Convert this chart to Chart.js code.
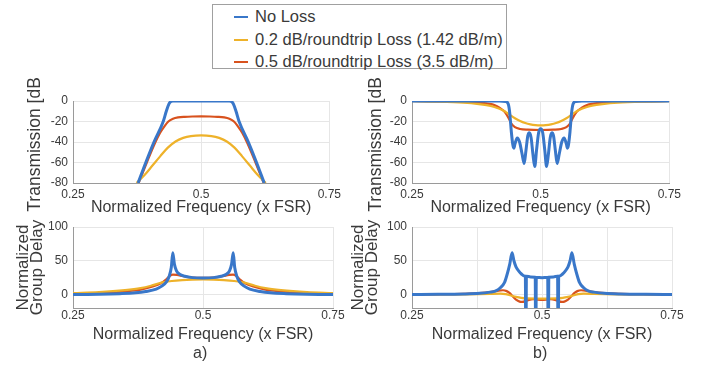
<!DOCTYPE html>
<html>
<head>
<meta charset="utf-8">
<script src="https://cdn.jsdelivr.net/npm/chart.js@4"></script>
<style>
  body { margin: 0; background: #fff; width: 701px; height: 369px; position: relative; overflow: hidden;
         font-family: 'Liberation Sans', Arial, sans-serif; color: #3a3a3a; }
  canvas { position: absolute; }
  #legend { position: absolute; left: 212px; top: 4px; width: 293px; height: 63px; border: 1px solid #a0a0a0; background: #fff; }
  .item { position: absolute; left: 0; height: 20px; font-size: 16.5px; line-height: 20px; white-space: nowrap; }
  .item span.swatch { position: absolute; left: 21px; top: 10px; width: 14px; height: 2px; }
  .item span.txt { position: absolute; left: 42px; top: 0; }
  .sub { position: absolute; font-size: 16px; }
</style>
</head>
<body>
<div id="legend">
  <div class="item" style="top:1px"><span class="swatch" style="background:#3977c9"></span><span class="txt">No Loss</span></div>
  <div class="item" style="top:24px"><span class="swatch" style="background:#eeb22a"></span><span class="txt">0.2 dB/roundtrip Loss (1.42 dB/m)</span></div>
  <div class="item" style="top:46px"><span class="swatch" style="background:#d8521e"></span><span class="txt">0.5 dB/roundtrip Loss (3.5 dB/m)</span></div>
</div>
<canvas id="transA" width="344" height="140" style="left:1px;top:78px"></canvas>
<canvas id="transB" width="345" height="140" style="left:340px;top:78px"></canvas>
<canvas id="delayA" width="344" height="140" style="left:1px;top:205px"></canvas>
<canvas id="delayB" width="345" height="140" style="left:340px;top:205px"></canvas>
<div class="sub" style="left:193px;top:344px">a)</div>
<div class="sub" style="left:533px;top:344px">b)</div>
<script>
// series colours (legend order)
const BLUE = "#3977c9", YELLOW = "#eeb22a", RED = "#d8521e";

// axis ticks
const xTickVals = [0.25, 0.5, 0.75];
const xTickValsFine = [0.25, 0.375, 0.5, 0.625, 0.75];
const transTicks = [-80, -60, -40, -20, 0];
const delayTicks = [0, 50, 100];

// a) transmission [dB]
const xA_T_blue = [0.377, 0.392, 0.408, 0.426, 0.432, 0.437, 0.441, 0.445, 0.555, 0.559, 0.563, 0.568, 0.574, 0.592, 0.608, 0.623];
const yA_T_blue = [-80, -60, -40, -20, -10, -3, -0.5, 0, 0, -0.5, -3, -10, -20, -40, -60, -80];
const xA_T_red = [0.378, 0.394, 0.410, 0.420, 0.428, 0.436, 0.445, 0.455, 0.468, 0.484, 0.5, 0.516, 0.532, 0.545, 0.555, 0.564, 0.572, 0.580, 0.590, 0.606, 0.622];
const yA_T_red = [-80, -60, -41, -31, -25, -20, -17.3, -16, -15.4, -15.1, -15, -15.1, -15.4, -16, -17.3, -20, -25, -31, -41, -60, -80];
const xA_T_yel = [0.374, 0.390, 0.405, 0.420, 0.435, 0.450, 0.465, 0.48, 0.5, 0.52, 0.535, 0.550, 0.565, 0.580, 0.595, 0.610, 0.626];
const yA_T_yel = [-80, -72, -63, -54, -45.5, -39.5, -36, -34.2, -33.5, -34.2, -36, -39.5, -45.5, -54, -63, -72, -80];

// b) transmission [dB]
const xB_T_blue = [0.25, 0.42, 0.432, 0.437, 0.440, 0.443, 0.446, 0.448, 0.450, 0.4545, 0.459, 0.464, 0.468, 0.4715, 0.475, 0.478, 0.4815, 0.485, 0.4885, 0.492, 0.496, 0.5,
  0.504, 0.508, 0.5115, 0.515, 0.5185, 0.522, 0.525, 0.5285, 0.532, 0.536, 0.541, 0.5455, 0.550, 0.552, 0.554, 0.557, 0.560, 0.563, 0.568, 0.58, 0.75];
const yB_T_blue = [0, 0, -0.5, -3, -12, -30, -43, -46, -42, -36, -40, -52, -61, -48, -34, -31, -36, -52, -64, -48, -31, -27,
  -31, -48, -64, -52, -36, -31, -34, -48, -61, -52, -40, -36, -42, -46, -43, -30, -12, -3, -0.5, 0, 0];
const xB_T_red = [0.25, 0.30, 0.35, 0.38, 0.40, 0.41, 0.42, 0.43, 0.437, 0.443, 0.45, 0.46, 0.475, 0.5, 0.525, 0.54, 0.55, 0.557, 0.563, 0.57, 0.58, 0.59, 0.60, 0.62, 0.65, 0.70, 0.75];
const yB_T_red = [0, -0.3, -0.8, -1.5, -2.8, -4, -6.5, -10.5, -16, -22, -25.5, -27.3, -28, -28.3, -28, -27.3, -25.5, -22, -16, -10.5, -6.5, -4, -2.8, -1.5, -0.8, -0.3, 0];
const xB_T_yel = [0.25, 0.30, 0.35, 0.38, 0.40, 0.41, 0.42, 0.43, 0.44, 0.45, 0.46, 0.47, 0.48, 0.49, 0.5, 0.51, 0.52, 0.53, 0.54, 0.55, 0.56, 0.57, 0.58, 0.59, 0.60, 0.62, 0.65, 0.70, 0.75];
const yB_T_yel = [-0.2, -0.6, -1.6, -3, -4.5, -5.8, -7.5, -10, -13.5, -16.8, -19.5, -21.5, -22.8, -23.5, -23.7, -23.5, -22.8, -21.5, -19.5, -16.8, -13.5, -10, -7.5, -5.8, -4.5, -3, -1.6, -0.6, -0.2];

// a) normalized group delay
const xA_D_blue = [0.25, 0.30, 0.34, 0.37, 0.39, 0.41, 0.42, 0.43, 0.435, 0.439, 0.442, 0.445, 0.449, 0.455, 0.465, 0.48, 0.5,
  0.52, 0.535, 0.545, 0.551, 0.555, 0.558, 0.561, 0.565, 0.57, 0.58, 0.59, 0.61, 0.63, 0.66, 0.70, 0.75];
const yA_D_blue = [0, 0.3, 1.2, 2.5, 4.5, 8, 12, 19, 27, 40, 62, 45, 35, 30, 27, 25, 24.5,
  25, 27, 30, 35, 45, 62, 40, 27, 19, 12, 8, 4.5, 2.5, 1.2, 0.3, 0];
const xA_D_red = [0.25, 0.30, 0.35, 0.38, 0.40, 0.42, 0.43, 0.437, 0.442, 0.45, 0.46, 0.47, 0.48, 0.5, 0.52, 0.53, 0.54, 0.55, 0.558, 0.563, 0.57, 0.58, 0.60, 0.62, 0.65, 0.70, 0.75];
const yA_D_red = [1, 2, 4.5, 7, 11, 17, 23, 28, 29.5, 29, 27.5, 26, 25, 24.5, 25, 26, 27.5, 29, 29.5, 28, 23, 17, 11, 7, 4.5, 2, 1];
const xA_D_yel = [0.25, 0.30, 0.35, 0.38, 0.40, 0.42, 0.44, 0.46, 0.48, 0.5, 0.52, 0.54, 0.56, 0.58, 0.60, 0.62, 0.65, 0.70, 0.75];
const yA_D_yel = [2, 3.5, 6.5, 9.5, 13, 17.5, 20, 21.3, 22, 22.3, 22, 21.3, 20, 17.5, 13, 9.5, 6.5, 3.5, 2];

// b) normalized group delay (blue dips below the axis at the transmission zeros)
const xB_D_blue = [0.25, 0.30, 0.35, 0.38, 0.40, 0.41, 0.42, 0.428, 0.433, 0.438, 0.4425, 0.446, 0.450, 0.455, 0.461, 0.466,
  0.468, 0.469, 0.470, 0.478, 0.487, 0.488, 0.489, 0.5, 0.511, 0.512, 0.513, 0.522, 0.530, 0.531, 0.532,
  0.534, 0.539, 0.545, 0.550, 0.554, 0.5575, 0.562, 0.567, 0.572, 0.58, 0.59, 0.60, 0.62, 0.65, 0.70, 0.75];
const yB_D_blue = [0, 0.2, 0.8, 1.8, 3.5, 5, 10, 18, 30, 45, 62, 50, 41, 35, 30, 27.5,
  27.3, -120, 27.2, 26, 25.5, -120, 25.3, 25, 25.3, -120, 25.5, 26, 27.2, -120, 27.3,
  27.5, 30, 35, 41, 50, 62, 45, 30, 18, 10, 5, 3.5, 1.8, 0.8, 0.2, 0];
const xB_D_red = [0.25, 0.30, 0.35, 0.38, 0.40, 0.415, 0.425, 0.432, 0.438, 0.444, 0.450, 0.457, 0.462, 0.468, 0.475, 0.483, 0.49, 0.5,
  0.51, 0.517, 0.525, 0.532, 0.538, 0.543, 0.550, 0.556, 0.562, 0.568, 0.575, 0.585, 0.60, 0.62, 0.65, 0.70, 0.75];
const yB_D_red = [0, 0.3, 1, 2, 3.5, 5.5, 6.3, 5, 2, -3, -7.5, -10.5, -11, -10, -8, -7, -7.5, -8,
  -7.5, -7, -8, -10, -11, -10.5, -7.5, -3, 2, 5, 6.3, 5.5, 3.5, 2, 1, 0.3, 0];
const xB_D_yel = [0.25, 0.35, 0.40, 0.42, 0.43, 0.44, 0.45, 0.46, 0.47, 0.5, 0.53, 0.54, 0.55, 0.56, 0.57, 0.58, 0.60, 0.65, 0.75];
const yB_D_yel = [0, 0.3, 1, 1.2, 0.5, -1.5, -3.5, -5, -5.8, -6, -5.8, -5, -3.5, -1.5, 0.5, 1.2, 1, 0.3, 0];

Chart.defaults.font.family = "'Liberation Sans', Arial, sans-serif";
Chart.defaults.color = "#3a3a3a";

function pts(xs, ys) {
  return xs.map((x, i) => ({ x: x, y: ys[i] }));
}

function line(xs, ys, color, width) {
  return {
    data: pts(xs, ys),
    borderColor: color,
    borderWidth: width,
    pointRadius: 0,
    fill: false,
    cubicInterpolationMode: "monotone",
  };
}

function labelX(v) {
  return xTickVals.includes(v) ? String(v) : "";
}

function makeChart(id, datasets, cfg) {
  const tickFont = { size: 12 };
  return new Chart(document.getElementById(id), {
    type: "line",
    data: { datasets: datasets },
    options: {
      responsive: false,
      animation: false,
      devicePixelRatio: 1,
      layout: { padding: { top: cfg.padTop, right: cfg.padRight, left: 0, bottom: 0 } },
      plugins: { legend: { display: false }, tooltip: { enabled: false } },
      scales: {
        x: {
          type: "linear",
          min: 0.25,
          max: 0.75,
          afterBuildTicks: (s) => { s.ticks = cfg.xTicks.map((v) => ({ value: v })); },
          afterFit: (s) => { s.height = cfg.xHeight; },
          ticks: { callback: labelX, font: tickFont, padding: cfg.xTickPad, maxRotation: 0, autoSkip: false },
          grid: { color: "#e6e6e6", drawTicks: false },
          border: { color: "#9a9a9a" },
          title: { display: true, text: "Normalized Frequency (x FSR)", font: { size: 16 }, padding: { top: 0, bottom: 1 } },
        },
        y: {
          min: cfg.yMin,
          max: cfg.yMax,
          afterBuildTicks: (s) => { s.ticks = cfg.yTicks.map((v) => ({ value: v })); },
          afterFit: (s) => { s.width = 72; },
          ticks: { font: tickFont, padding: 5, callback: (v) => String(v) },
          grid: { color: "#e6e6e6", drawTicks: false },
          border: { color: "#9a9a9a" },
          title: { display: true, text: cfg.yTitle, font: { size: cfg.yTitleSize, lineHeight: cfg.yTitleLH }, padding: { top: cfg.yTitlePad, bottom: 0 } },
        },
      },
    },
  });
}

makeChart("transA", [
  line(xA_T_blue, yA_T_blue, BLUE, 3),
  line(xA_T_yel, yA_T_yel, YELLOW, 2.2),
  line(xA_T_red, yA_T_red, RED, 2.2),
], { padTop: 23, padRight: 12, xHeight: 35, xTickPad: 4, xTicks: xTickVals, yMin: -80, yMax: 0, yTicks: transTicks,
     yTitle: "Transmission [dB]", yTitleSize: 17.5, yTitleLH: 1.2, yTitlePad: 24 });

makeChart("transB", [
  line(xB_T_blue, yB_T_blue, BLUE, 3),
  line(xB_T_yel, yB_T_yel, YELLOW, 2.2),
  line(xB_T_red, yB_T_red, RED, 2.2),
], { padTop: 23, padRight: 13, xHeight: 35, xTickPad: 4, xTicks: xTickVals, yMin: -80, yMax: 0, yTicks: transTicks,
     yTitle: "Transmission [dB]", yTitleSize: 17.5, yTitleLH: 1.2, yTitlePad: 26 });

makeChart("delayA", [
  line(xA_D_blue, yA_D_blue, BLUE, 3),
  line(xA_D_yel, yA_D_yel, YELLOW, 2.2),
  line(xA_D_red, yA_D_red, RED, 2.2),
], { padTop: 22, padRight: 12, xHeight: 37, xTickPad: 0, xTicks: xTickVals, yMin: -20, yMax: 100, yTicks: delayTicks,
     yTitle: ["Normalized", "Group Delay"], yTitleSize: 17, yTitleLH: 0.8, yTitlePad: 16 });

makeChart("delayB", [
  line(xB_D_blue, yB_D_blue, BLUE, 3),
  line(xB_D_yel, yB_D_yel, YELLOW, 2.2),
  line(xB_D_red, yB_D_red, RED, 2.2),
], { padTop: 22, padRight: 13, xHeight: 37, xTickPad: 0, xTicks: xTickValsFine, yMin: -20, yMax: 100, yTicks: delayTicks,
     yTitle: ["Normalized", "Group Delay"], yTitleSize: 17, yTitleLH: 0.8, yTitlePad: 12 });
</script>
</body>
</html>
